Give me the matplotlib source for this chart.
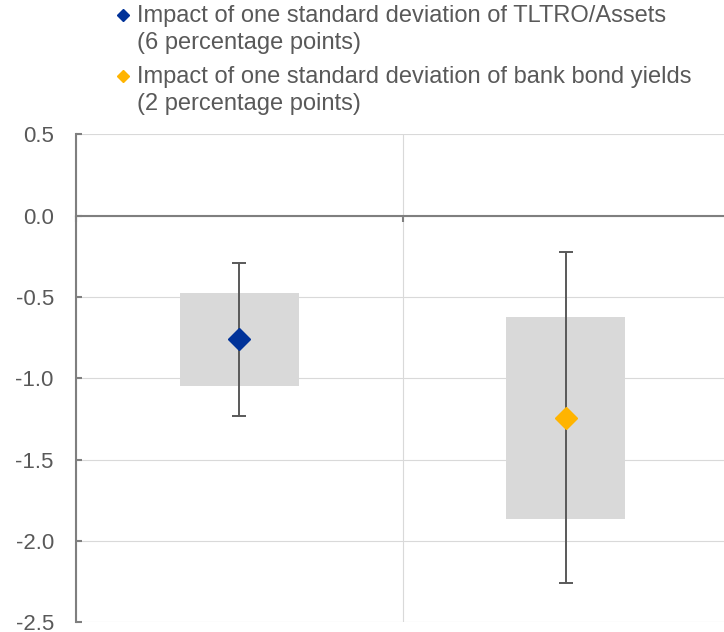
import numpy as np
import matplotlib
matplotlib.use("Agg")
import matplotlib.pyplot as plt
from matplotlib.lines import Line2D
from matplotlib.legend_handler import HandlerLine2D

plt.rcParams['font.family'] = ['Liberation Sans', 'DejaVu Sans']
plt.rcParams['axes.unicode_minus'] = False

# estimates: point, error bar range, shaded band
labels = ['Impact of one standard deviation of TLTRO/Assets\n(6 percentage points)',
          'Impact of one standard deviation of bank bond yields\n(2 percentage points)']
point = [-0.76, -1.245]
err_low = [-1.23, -2.26]
err_high = [-0.29, -0.225]
band_low = [-1.05, -1.862]
band_high = [-0.475, -0.623]
colors = ['#003299', '#ffb400']
yticks = [0.5, 0.0, -0.5, -1.0, -1.5, -2.0, -2.5]

text_col = '#595959'
axis_col = '#7f7f7f'
grid_col = '#d9d9d9'


class TopMarker(HandlerLine2D):
    # put the legend marker next to the first line of a two-line label
    def create_artists(self, legend, orig_handle, xdescent, ydescent,
                       width, height, fontsize, trans):
        arts = super().create_artists(legend, orig_handle, xdescent, ydescent,
                                      width, height, fontsize, trans)
        for a in arts:
            a.set_ydata(np.asarray(a.get_ydata()) + fontsize * 0.65)
        return arts


fig = plt.figure(figsize=(7.24, 6.32), dpi=100)
ax = fig.add_axes([76 / 724, 1 - 622.3 / 632, 653 / 724, 488 / 632])

x = np.arange(len(point))
ax.bar(x, np.array(band_high) - np.array(band_low), bottom=band_low,
       width=0.366, color='#d9d9d9', zorder=2)

for i in range(len(point)):
    ax.errorbar(x[i], point[i],
                yerr=[[point[i] - err_low[i]], [err_high[i] - point[i]]],
                fmt='none', ecolor='#595959', elinewidth=1.4, capsize=4.7,
                capthick=1.4, zorder=3)
    ax.plot(x[i], point[i], marker='D', ms=11.5, color=colors[i],
            linestyle='none', zorder=4)

ax.set_xlim(-0.5, 1.5)
ax.set_ylim(-2.5, 0.5)
ax.set_yticks(yticks)
ax.set_yticklabels(['%.1f' % v for v in yticks])
ax.set_xticks([-0.5, 0.5, 1.5])
ax.set_xticklabels([])

ax.grid(True, color=grid_col, linewidth=0.8, zorder=0)
ax.set_axisbelow(True)

for s in ['top', 'right']:
    ax.spines[s].set_visible(False)
ax.spines['bottom'].set_position(('data', 0))
ax.spines['bottom'].set_color(axis_col)
ax.spines['bottom'].set_linewidth(1.5)
ax.spines['bottom'].set_zorder(1)
ax.spines['left'].set_color(axis_col)
ax.spines['left'].set_linewidth(1.5)

ax.tick_params(axis='y', direction='in', length=4.5, width=1.5, color=axis_col,
               labelsize=16, labelcolor=text_col, pad=16)
ax.tick_params(axis='x', direction='out', length=4.5, width=1.5, color=axis_col)

handles = [Line2D([], [], marker='D', ms=6, color=c, linestyle='none') for c in colors]
leg = fig.legend(handles, labels, loc='upper left', bbox_to_anchor=(116 / 724, 1 - 5 / 632),
                 frameon=False, fontsize=17, labelcolor=text_col, handlelength=0.6,
                 handletextpad=0.3, labelspacing=0.5, borderaxespad=0, borderpad=0,
                 handler_map={Line2D: TopMarker()})
for t in leg.get_texts():
    t.set_linespacing(1.31)

fig.savefig('out.png', dpi=100)
